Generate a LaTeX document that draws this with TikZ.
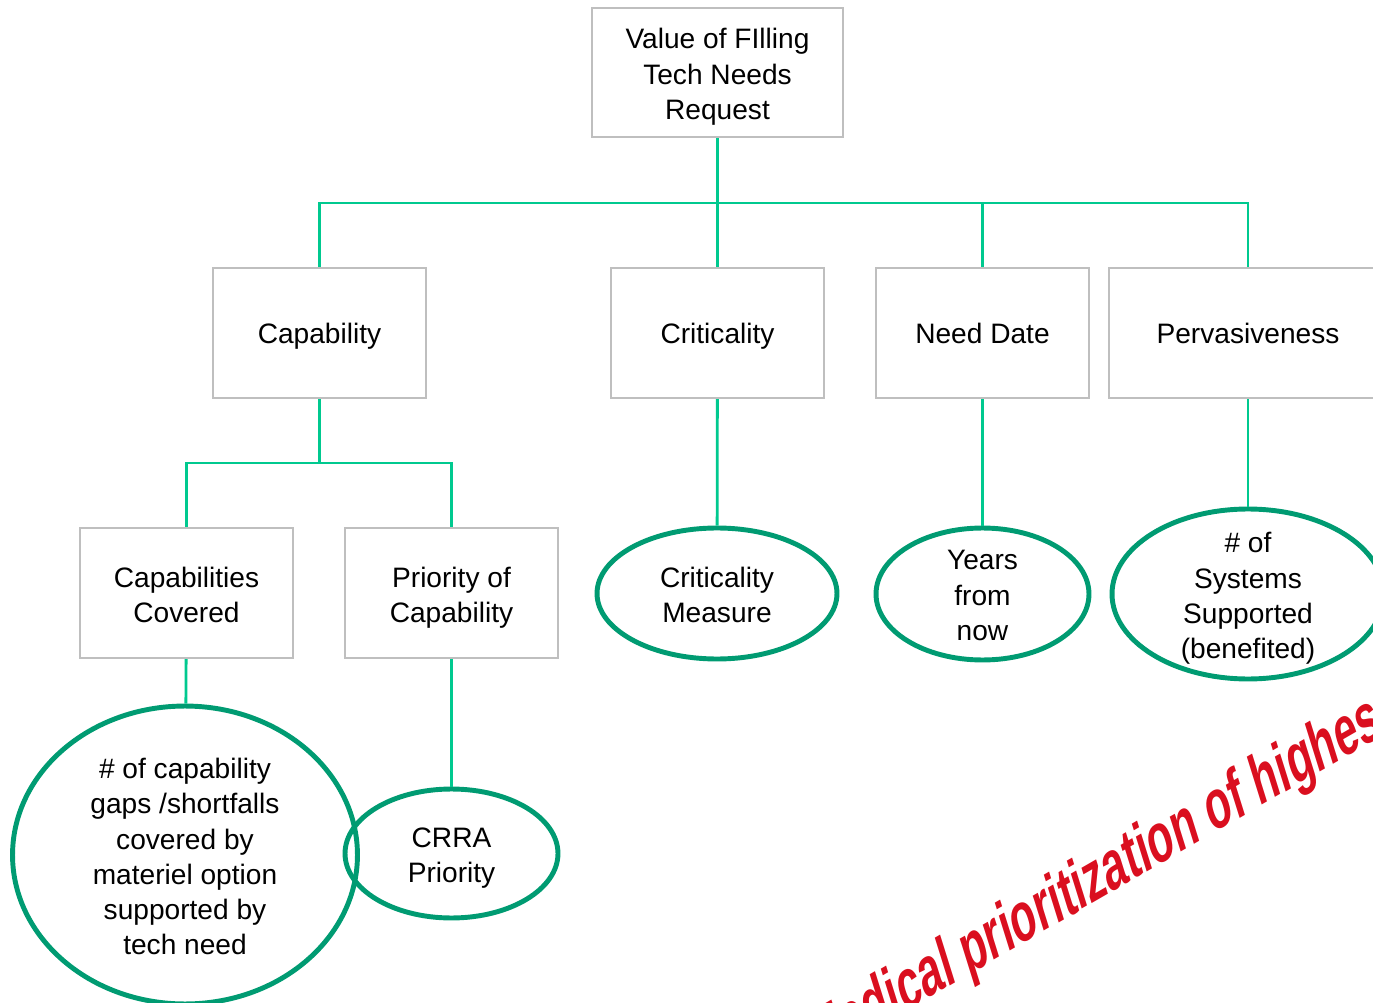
\documentclass[tikz,border=0pt]{standalone}
\usepackage{fontspec}
\setmainfont{Liberation Sans}
\usepackage{xcolor}
\usepackage{tikz}
\usetikzlibrary{shapes.geometric}
\definecolor{boxline}{HTML}{BFBFBF}
\definecolor{linkgreen}{HTML}{00C98F}
\definecolor{ringgreen}{HTML}{009B72}
\definecolor{stampred}{HTML}{DA0F1F}
\newcommand{\vstrut}{\rule[-4pt]{0pt}{19.4pt}}
\tikzset{
  lab/.style={align=center, font=\fontsize{16}{20}\selectfont,
    execute at begin node=\vstrut},
  caption/.style={lab, yshift=-2.8pt},
  factor/.style={lab, draw=boxline, line width=1.4pt, minimum width=4.26cm, minimum height=2.6cm},
  measure/.style={ellipse, draw=ringgreen, line width=2.8pt, inner sep=0pt},
  wire/.style={draw=linkgreen, line width=1.6pt},
  stamp/.style={text=stampred, font=\fontsize{30}{34}\selectfont\bfseries, inner sep=0pt},
}
\begin{document}
\begin{tikzpicture}[x=0.02cm, y=-0.02cm]
  \useasboundingbox (0,0) rectangle (1373,1003);
  \clip (0,0) rectangle (1373,1003);
  % boxes
  \node[factor, minimum width=5.02cm, minimum height=2.58cm] (value) at (717.5,72.5) {};
  \node[caption] (value text) at (value) {Value of FIlling\\Tech Needs\\Request};
  \node[factor] (cap) at (319.5,333) {Capability};
  \node[factor] (crit) at (717.5,333) {Criticality};
  \node[factor] (need) at (982.5,333) {Need Date};
  \node[factor, minimum width=5.56cm] (perv) at (1248,333) {Pervasiveness};
  \node[factor] (capcov) at (186.5,593) {};
  \node[caption] (capcov text) at (capcov) {Capabilities\\Covered};
  \node[factor] (capprio) at (451.5,593) {};
  \node[caption] (capprio text) at (capprio) {Priority of\\Capability};
  % measures
  \node[measure, minimum width=4.8cm, minimum height=2.62cm] (critm) at (717,593.5) {};
  \node[caption] (critm text) at (critm) {Criticality\\Measure};
  \node[measure, minimum width=4.26cm, minimum height=2.64cm] (years) at (982.5,594) {};
  \node[caption] (years text) at (years) {Years\\from\\now};
  \node[measure, minimum width=5.44cm, minimum height=3.4cm] (systems) at (1248,594) {};
  \node[caption] (systems text) at (systems) {\# of\\Systems\\Supported\\(benefited)};
  \node[measure, minimum width=6.9cm, minimum height=5.96cm] (gaps) at (185,855) {};
  \node[caption] (gaps text) at (gaps) {\# of capability\\gaps /shortfalls\\covered by\\materiel option\\supported by\\tech need};
  \node[measure, minimum width=4.26cm, minimum height=2.58cm] (crra) at (451.5,853.5) {};
  \node[caption] (crra text) at (crra) {CRRA\\Priority};
  % connectors
  \coordinate (bus) at (717.5,203);
  \coordinate (capbus) at (319.5,463);
  \draw[wire] (value) -- (bus);
  \draw[wire] (cap.north) |- (bus) -| (perv.north);
  \draw[wire] (crit.north) -- (crit.north |- bus);
  \draw[wire] (need.north) -- (need.north |- bus);
  \draw[wire] (cap) -- (capbus);
  \draw[wire] (capcov.north) |- (capbus) -| (capprio.north);
  \draw[wire] (crit) -- (critm);
  \draw[wire] (need) -- (years);
  \draw[wire] (perv) -- (systems);
  \draw[wire] (capcov) -- (gaps);
  \draw[wire] (capprio) -- (crra);
  % stamp (stretched, runs off the page)
  \begin{scope}[shift={(816,1063)}, yscale=1.36]
    \node[stamp, transform shape, rotate=23, xscale=0.795, anchor=base west] (note) at (0,0) {Medical prioritization of highest};
  \end{scope}
\end{tikzpicture}
\end{document}
